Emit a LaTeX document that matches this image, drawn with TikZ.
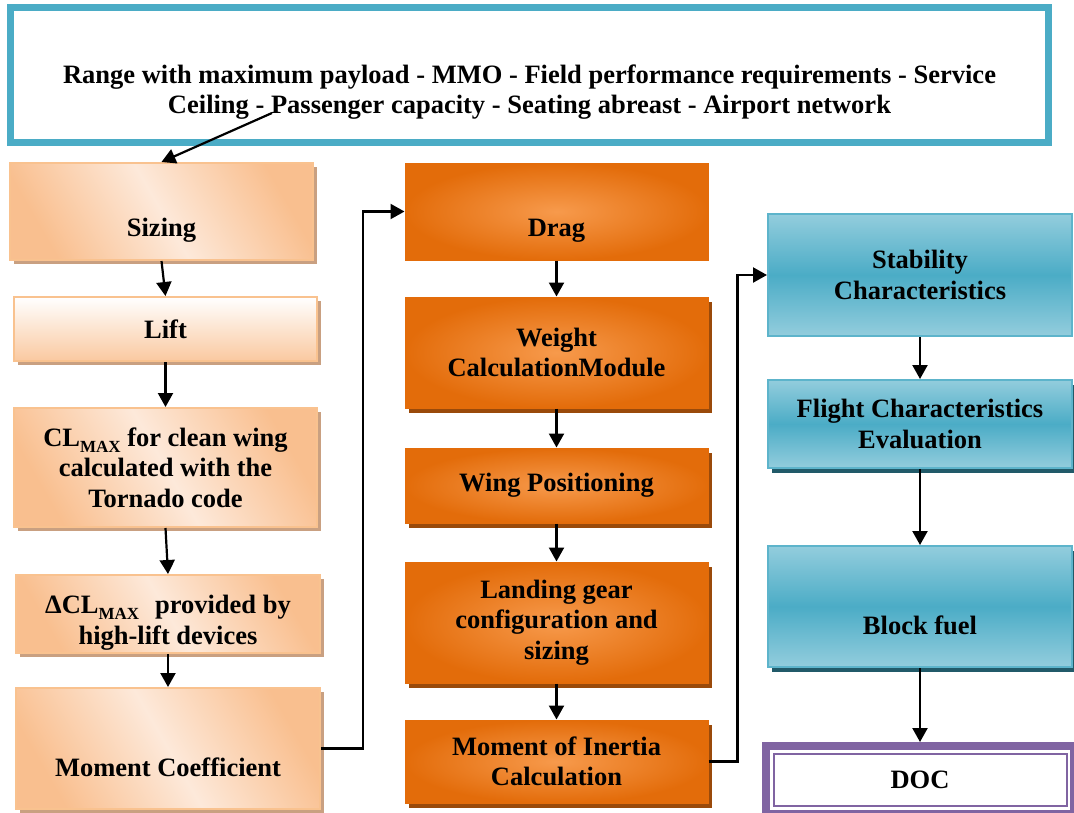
\documentclass[tikz,border=0pt]{standalone}
\usepackage{fontspec}
\setmainfont{Liberation Serif}
\usetikzlibrary{arrows.meta,shadows,calc}
\definecolor{peachD}{HTML}{F9BF8F}
\definecolor{peachL}{HTML}{FDE9DA}
\definecolor{peachB}{HTML}{F9C28F}
\definecolor{peachS}{HTML}{C9A081}
\definecolor{orD}{HTML}{E36C0A}
\definecolor{orL}{HTML}{F79A4C}
\definecolor{orS}{HTML}{9A4A0A}
\definecolor{blL}{HTML}{93CDDD}
\definecolor{blD}{HTML}{4BACC6}
\definecolor{blB}{HTML}{5DB4CB}
\definecolor{blS}{HTML}{215A69}
\definecolor{topB}{HTML}{4BACC6}
\definecolor{docP}{HTML}{8064A2}
\newcommand{\sbmax}{\raisebox{-0.22em}{\fontsize{17}{17}\selectfont MAX}}
\newcommand{\blankline}[1]{\rule{0pt}{#1}\\}
\tikzset{
  box/.style={rectangle, align=center, inner sep=0pt,
    font=\bfseries\fontsize{26.5}{30.5}\selectfont},
  peachbox/.style={box, draw=peachB, line width=2pt,
    top color=peachD, bottom color=peachD, middle color=peachL, shading angle=-60,
    general shadow={fill=peachS, shadow xshift=4pt, shadow yshift=-4pt}},
  liftbox/.style={box, draw=peachB, line width=2pt,
    top color=white, bottom color=peachD!85!white,
    general shadow={fill=peachS, shadow xshift=4pt, shadow yshift=-4pt}},
  orbox/.style={box, draw=orD, line width=1pt,
    shading=radial, inner color=orL, outer color=orD},
  orshadow/.style={general shadow={fill=orS, shadow xshift=4pt, shadow yshift=-5pt}},
  blbox/.style={box, draw=blB, line width=2pt,
    top color=blL, bottom color=blL, middle color=blD},
  blshadow/.style={general shadow={fill=blS, shadow xshift=4pt, shadow yshift=-5pt}},
  topbox/.style={box, draw=topB, line width=7pt, fill=white},
  docbox/.style={box, draw=docP, line width=8pt, fill=white},
  conn/.style={line width=2.2pt, -{Triangle[length=14pt,width=15pt]}},
}
\begin{document}
\begin{tikzpicture}[x=1pt,y=-1pt]
\useasboundingbox[fill=white] (0,0) rectangle (1074,812);

% top box
\node[topbox, minimum width=1038pt, minimum height=135pt] (top) at (529.5,75)
  {\blankline{22pt}Range with maximum payload - MMO - Field performance requirements - Service\\Ceiling - Passenger capacity - Seating abreast - Airport network};

% left column
\node[peachbox, minimum width=303pt, minimum height=97pt] (sizing) at (161.5,211.5) {\blankline{26pt}Sizing};
\node[liftbox, minimum width=303pt, minimum height=64pt] (lift) at (165.5,329) {Lift};
\node[peachbox, minimum width=303pt, minimum height=119pt] (clmax) at (165.5,467.5)
  {CL\sbmax{} for clean wing\\calculated with the\\Tornado code};
\node[peachbox, minimum width=304pt, minimum height=78pt] (dcl) at (168,614)
  {\rule{0pt}{36pt}ΔCL\sbmax\hspace{0.35em} provided by\\high-lift devices};
\node[peachbox, minimum width=304pt, minimum height=121pt] (mc) at (168,748.5)
  {\blankline{26pt}Moment Coefficient};

% middle column
\node[orbox, minimum width=303pt, minimum height=97pt] (drag) at (556.5,211.5) {\blankline{26pt}Drag};
\node[orbox, orshadow, minimum width=303pt, minimum height=111pt] (weight) at (556.5,352.5)
  {Weight\\CalculationModule};
\node[orbox, orshadow, minimum width=303pt, minimum height=75pt] (wing) at (556.5,485.5)
  {Wing Positioning};
\node[orbox, orshadow, minimum width=303pt, minimum height=121pt] (landing) at (556.5,622.5)
  {Landing gear\\configuration and\\sizing};
\node[orbox, orshadow, minimum width=303pt, minimum height=83pt] (moi) at (556.5,761.5)
  {Moment of Inertia\\Calculation};

% right column
\node[blbox, minimum width=304pt, minimum height=122pt] (stab) at (920,275)
  {Stability\\Characteristics};
\node[blbox, blshadow, minimum width=304pt, minimum height=88pt] (flight) at (920,424)
  {Flight Characteristics\\Evaluation};
\node[blbox, blshadow, minimum width=304pt, minimum height=121pt] (block) at (920,606.5)
  {\blankline{26pt}Block fuel};
\node[docbox, minimum width=308pt, minimum height=68pt] (doc) at (920,780) {DOC};
\draw[docP, line width=2pt] ($(doc.north west)+(11.5,12)$) rectangle ($(doc.south east)+(-11.5,-12)$);

% connectors
\coordinate (ts) at (272,113);
\draw[conn] (ts) -- (sizing.north);
\draw[conn] (sizing.south) -- (lift.north);
\draw[conn] (lift.south) -- (clmax.north);
\draw[conn] (clmax.south) -- (dcl.north);
\draw[conn] (dcl.south) -- (mc.north);
\draw[conn] (mc.east) -- ++(42,0) |- (drag.west);
\draw[conn] (drag.south) -- (weight.north);
\draw[conn] (weight.south) -- (wing.north);
\draw[conn] (wing.south) -- (landing.north);
\draw[conn] (landing.south) -- (moi.north);
\draw[conn] (moi.east) -- ++(29,0) |- (stab.west);
\draw[conn] (stab.south) -- (flight.north);
\draw[conn] (flight.south) -- (block.north);
\draw[conn] (block.south) -- (doc.north);
\end{tikzpicture}
\end{document}
